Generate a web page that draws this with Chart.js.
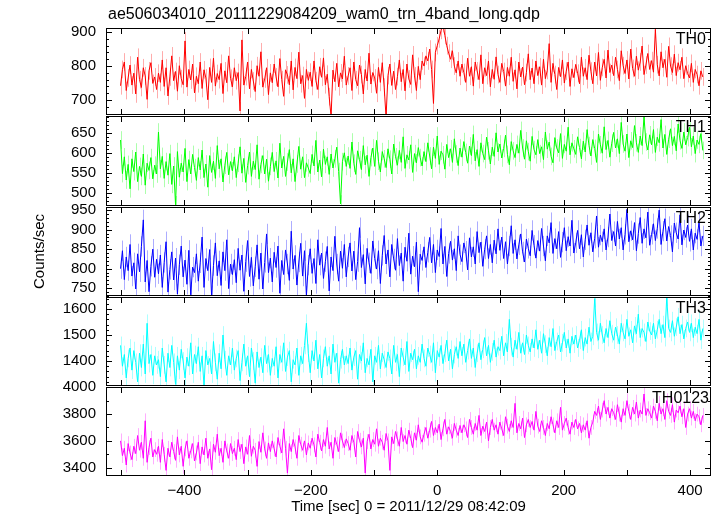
<!DOCTYPE html>
<html>
<head>
<meta charset="utf-8">
<script src="https://cdn.jsdelivr.net/npm/chart.js@4.4.1/dist/chart.umd.min.js"></script>
<style>
  body { margin: 0; background: #fff; }
  #wrap { position: relative; width: 717px; height: 516px; }
  #wrap canvas { position: absolute; left: 0; top: 0; }
</style>
</head>
<body>
<div id="wrap">
  <canvas id="p0" width="717" height="516"></canvas>
  <canvas id="p1" width="717" height="516"></canvas>
  <canvas id="p2" width="717" height="516"></canvas>
  <canvas id="p3" width="717" height="516"></canvas>
  <canvas id="p4" width="717" height="516"></canvas>
</div>
<script>
const plotTitle = 'ae506034010_20111229084209_wam0_trn_4band_long.qdp';
const xLabel = 'Time [sec] 0 = 2011/12/29 08:42:09';
const yLabel = 'Counts/sec';

// time bins (sec): first bin and bin width
const binStart = -501;
const binStep = 3;

const th0 = [
  742,790,812,728,765,803,744,779,718,826,760,737,795,771,702,786,810,749,768,731,
  779,752,818,740,795,712,768,830,757,784,726,801,763,745,874,738,790,759,806,721,
  770,748,812,734,789,765,701,796,752,823,741,778,760,808,719,786,751,830,764,739,
  795,757,781,668,877,744,769,812,733,790,756,725,801,770,842,738,762,795,716,780,
  751,806,768,739,822,760,711,789,774,745,815,730,796,763,841,748,772,705,790,758,
  782,740,815,757,731,798,767,824,745,776,710,652,788,754,808,739,780,762,829,744,
  771,795,728,812,760,742,803,775,718,790,756,838,747,781,765,720,796,752,810,738,
  650,772,806,743,785,731,769,818,754,790,727,806,762,746,833,771,728,799,760,815,
  800,830,815,850,790,690,840,860,880,905,925,890,860,838,820,845,800,780,815,770,
  806,781,752,823,770,798,741,812,786,760,833,748,795,772,815,739,790,761,827,775,
  752,808,784,741,796,770,826,755,789,733,812,768,797,745,781,836,760,794,748,815,
  772,798,744,820,763,787,866,752,808,775,731,796,769,818,750,785,812,740,792,766,
  805,779,748,826,770,795,760,832,785,748,812,771,840,758,796,820,765,847,781,803,
  772,826,790,757,845,801,778,818,762,850,793,770,829,788,812,859,775,803,837,790,
  816,782,908,804,771,842,795,820,767,858,800,781,835,772,810,789,826,763,801,778,
  765,808,752,790,775,742,786,768
];
const th1 = [
  632,548,590,532,571,510,585,553,602,528,566,541,597,519,574,556,588,535,569,547,
  652,560,591,536,578,544,598,521,567,470,603,539,574,552,611,528,583,547,596,563,
  531,588,557,607,538,572,514,593,551,579,536,618,560,585,527,569,601,545,578,555,
  590,538,574,615,549,586,526,568,602,541,579,558,620,534,571,593,547,584,529,566,
  601,553,580,537,624,562,591,541,577,608,550,585,528,572,616,559,590,538,575,562,
  548,596,567,631,552,582,540,609,571,590,546,597,562,585,614,553,472,578,600,566,
  592,561,627,574,546,605,583,558,618,570,594,541,588,612,566,631,579,552,603,585,
  563,610,584,547,622,590,569,606,576,640,561,595,582,620,551,598,575,613,588,567,
  603,578,625,592,560,614,586,642,571,604,595,559,621,588,610,576,635,597,568,612,
  589,628,601,574,617,593,646,580,608,566,625,598,583,639,605,572,614,591,650,602,
  622,587,611,644,596,570,628,605,588,621,599,656,612,584,630,603,579,641,608,595,
  633,598,615,583,652,609,627,591,575,638,612,600,648,586,621,604,664,595,625,610,
  596,640,613,585,629,602,658,618,592,633,611,576,647,620,599,665,608,631,589,624,
  651,612,635,598,676,622,604,647,588,630,613,668,625,601,642,618,690,627,607,645,
  620,658,601,639,625,683,612,646,596,634,660,618,641,605,672,630,611,652,620,638,
  664,615,642,598,632,621,648,606
];
const th2 = [
  800,846,772,830,795,862,781,815,748,838,792,857,925,766,821,741,806,850,778,824,
  787,835,752,816,869,740,798,843,771,827,735,810,858,779,822,760,847,733,804,790,
  838,768,815,881,752,826,795,849,731,808,866,782,820,757,843,795,874,749,812,785,
  823,764,852,796,835,742,818,872,780,829,756,805,861,773,840,748,816,889,790,827,
  766,842,803,858,737,821,785,848,812,770,896,799,834,758,817,865,781,846,730,809,
  851,788,826,762,874,809,840,775,818,857,743,830,795,883,812,768,845,801,862,779,
  830,866,794,845,772,818,905,803,836,761,852,815,788,871,826,799,846,762,834,885,
  812,848,779,862,825,796,877,808,840,768,855,819,891,786,832,805,868,741,837,821,
  856,803,842,880,815,862,790,848,831,903,812,857,780,839,870,822,851,795,884,836,
  818,866,845,797,879,830,856,812,895,841,868,806,850,884,826,862,815,873,838,902,
  847,881,826,869,812,858,910,839,874,825,861,889,843,817,876,852,833,898,860,827,
  872,845,903,858,820,884,866,918,839,877,851,895,829,868,905,846,882,858,924,840,
  866,898,851,887,830,874,912,860,892,843,878,935,855,886,869,902,848,881,940,872,
  895,858,921,876,905,848,888,952,869,897,874,918,846,890,931,865,902,879,945,860,
  888,915,872,903,950,862,896,928,871,908,885,843,917,892,876,938,861,899,880,912,
  870,902,848,891,875,920,858,884
];
const th3 = [
  1460,1380,1425,1335,1410,1450,1365,1440,1395,1320,1430,1375,1465,1350,1545,1390,1425,1345,1420,1385,
  1405,1340,1450,1385,1320,1430,1375,1460,1395,1310,1420,1365,1445,1400,1335,1415,1380,1470,1350,1425,
  1390,1455,1360,1420,1305,1440,1385,1410,1350,1475,1395,1330,1430,1370,1500,1405,1345,1420,1385,1450,
  1365,1410,1440,1325,1395,1465,1380,1420,1340,1450,1400,1315,1435,1375,1415,1355,1460,1390,1425,1345,
  1410,1380,1455,1335,1425,1395,1470,1360,1415,1440,1320,1405,1385,1450,1345,1420,1390,1460,1545,1430,
  1355,1440,1400,1480,1370,1425,1335,1410,1455,1380,1420,1350,1465,1395,1430,1315,1405,1445,1385,1420,
  1390,1450,1365,1415,1440,1330,1425,1400,1470,1355,1410,1385,1445,1320,1420,1395,1460,1370,1430,1405,
  1375,1435,1410,1350,1460,1395,1425,1340,1450,1415,1385,1475,1360,1430,1405,1445,1370,1420,1395,1465,
  1410,1380,1450,1425,1395,1470,1355,1440,1415,1460,1390,1430,1480,1400,1445,1370,1425,1455,1410,1475,
  1420,1465,1395,1440,1485,1410,1450,1375,1430,1470,1405,1445,1490,1420,1460,1395,1435,1480,1415,1455,
  1440,1495,1420,1470,1435,1560,1455,1415,1480,1445,1510,1430,1470,1425,1500,1460,1435,1485,1450,1520,
  1445,1480,1430,1505,1465,1420,1490,1455,1525,1440,1475,1500,1435,1470,1510,1450,1485,1430,1495,1465,
  1500,1450,1480,1520,1440,1490,1465,1530,1475,1495,1640,1510,1480,1545,1500,1470,1525,1490,1555,1505,
  1480,1530,1500,1465,1545,1510,1485,1560,1495,1520,1470,1535,1505,1580,1490,1525,1510,1475,1550,1515,
  1500,1545,1485,1520,1560,1505,1540,1490,1645,1525,1510,1555,1495,1530,1570,1505,1540,1485,1525,1550,
  1510,1545,1490,1530,1505,1560,1480,1525
];
const th0123 = [
  3600,3490,3545,3420,3580,3510,3460,3560,3505,3640,3530,3590,3470,3750,3440,3550,3620,3480,3535,3500,
  3560,3440,3610,3500,3380,3545,3480,3590,3520,3455,3630,3495,3560,3410,3540,3600,3470,3525,3580,3450,
  3510,3590,3430,3555,3495,3620,3470,3540,3385,3575,3515,3650,3490,3545,3440,3600,3525,3470,3580,3505,
  3545,3460,3610,3520,3575,3430,3555,3500,3640,3485,3560,3530,3410,3595,3515,3660,3540,3470,3585,3520,
  3600,3540,3480,3625,3560,3510,3690,3545,3360,3580,3520,3610,3555,3470,3640,3575,3530,3600,3495,3585,
  3545,3620,3570,3480,3650,3590,3525,3610,3560,3700,3540,3590,3470,3625,3575,3520,3660,3600,3550,3615,
  3580,3530,3640,3590,3480,3670,3605,3555,3620,3360,3595,3650,3540,3610,3575,3690,3560,3620,3590,3530,
  3655,3600,3380,3630,3580,3670,3615,3560,3700,3595,3640,3575,3680,3620,3550,3660,3605,3720,3630,3590,
  3650,3700,3620,3680,3745,3640,3700,3660,3725,3610,3690,3760,3650,3705,3670,3620,3730,3680,3640,3715,
  3660,3720,3690,3625,3760,3700,3650,3730,3680,3790,3640,3710,3670,3740,3600,3700,3760,3680,3720,3650,
  3740,3690,3640,3780,3710,3670,3750,3700,3880,3660,3730,3690,3770,3625,3720,3760,3700,3745,3680,3820,
  3710,3670,3750,3700,3640,3730,3690,3780,3720,3660,3750,3700,3850,3680,3730,3770,3700,3650,3740,3700,
  3760,3690,3730,3660,3720,3680,3750,3620,3700,3740,3820,3790,3860,3760,3830,3900,3800,3850,3770,3840,
  3810,3760,3870,3800,3740,3840,3790,3900,3820,3760,3850,3800,3890,3770,3830,3800,3950,3790,3840,3810,
  3770,3860,3820,3750,3880,3800,3840,3760,3900,3820,3790,3870,3740,3830,3810,3860,3780,3840,3700,3800,
  3840,3770,3820,3750,3800,3780,3720,3790
];

// typical 1-sigma error bar half-length per band
const errTH0 = 26;
const errTH1 = 22;
const errTH2 = 26;
const errTH3 = 34;
const errTH0123 = 55;

const xTicks = [-400, -200, 0, 200, 400];
const yTicks0 = [700, 800, 900];
const yTicks1 = [500, 550, 600, 650];
const yTicks2 = [750, 800, 850, 900, 950];
const yTicks3 = [1400, 1500, 1600];
const yTicks4 = [3400, 3600, 3800, 4000];

const panels = [
  { name: 'TH0',    values: th0,    err: errTH0,    ticks: yTicks0, color: '#ff0000', light: 'rgba(255,90,90,0.5)',  top: 28,  bottom: 115, min: 656,  max: 912,  minor: 20 },
  { name: 'TH1',    values: th1,    err: errTH1,    ticks: yTicks1, color: '#00ff00', light: 'rgba(90,255,90,0.5)',  top: 116, bottom: 206, min: 467,  max: 692,  minor: 10 },
  { name: 'TH2',    values: th2,    err: errTH2,    ticks: yTicks2, color: '#0000ff', light: 'rgba(90,90,255,0.5)',  top: 207, bottom: 296, min: 730,  max: 958,  minor: 10 },
  { name: 'TH3',    values: th3,    err: errTH3,    ticks: yTicks3, color: '#00ffff', light: 'rgba(90,255,255,0.5)', top: 297, bottom: 386, min: 1304, max: 1646, minor: 20 },
  { name: 'TH0123', values: th0123, err: errTH0123, ticks: yTicks4, color: '#ff00ff', light: 'rgba(255,90,255,0.5)', top: 387, bottom: 476, min: 3338, max: 4002, minor: 100 }
];

const X_MIN = -524, X_MAX = 433;
const FONT = '"Liberation Sans", Arial, Helvetica, sans-serif';
Chart.defaults.font.family = FONT;
Chart.defaults.font.size = 15;
Chart.defaults.color = '#000';

function framePlugin(p, idx) {
  return {
    id: 'frame' + idx,
    beforeDatasetsDraw(chart) {
      // vertical error bars behind the light curve
      const { ctx, chartArea: a, scales: { x, y } } = chart;
      ctx.save();
      ctx.beginPath();
      ctx.rect(a.left, a.top, a.right - a.left, a.bottom - a.top);
      ctx.clip();
      ctx.strokeStyle = p.light;
      ctx.lineWidth = 1;
      ctx.beginPath();
      p.values.forEach((v, i) => {
        const px = Math.round(x.getPixelForValue(binStart + i * binStep)) + 0.5;
        ctx.moveTo(px, y.getPixelForValue(v - p.err));
        ctx.lineTo(px, y.getPixelForValue(v + p.err));
      });
      ctx.stroke();
      ctx.restore();
    },
    afterDraw(chart) {
      const { ctx, chartArea: a, scales: { x, y } } = chart;
      ctx.save();
      ctx.strokeStyle = '#000';
      ctx.lineWidth = 1;
      ctx.strokeRect(a.left + 0.5, a.top + 0.5, a.right - a.left - 1, a.bottom - a.top - 1);
      ctx.beginPath();
      const yTick = (v, len) => {
        const py = Math.round(y.getPixelForValue(v)) + 0.5;
        ctx.moveTo(a.left, py); ctx.lineTo(a.left + len, py);
        ctx.moveTo(a.right, py); ctx.lineTo(a.right - len, py);
      };
      for (let v = Math.ceil(p.min / p.minor) * p.minor; v <= p.max; v += p.minor) {
        yTick(v, p.ticks.includes(v) ? 6 : 3);
      }
      for (let v = -500; v <= 400; v += 100) {
        const px = Math.round(x.getPixelForValue(v)) + 0.5;
        ctx.moveTo(px, a.top); ctx.lineTo(px, a.top + 6);
        ctx.moveTo(px, a.bottom); ctx.lineTo(px, a.bottom - 6);
      }
      ctx.stroke();

      ctx.fillStyle = '#000';
      ctx.font = '16px ' + FONT;
      ctx.textAlign = 'right';
      ctx.textBaseline = 'top';
      ctx.fillText(p.name, a.right - (last(idx) ? 2 : 5), a.top + 4);

      if (idx === 0) {
        ctx.textAlign = 'left';
        ctx.textBaseline = 'middle';
        ctx.fillText(plotTitle, 108, 15);
      }
      ctx.restore();
    }
  };
}

function last(idx) { return idx === panels.length - 1; }

panels.forEach((p, idx) => {
  const isLast = last(idx);
  const points = p.values.map((v, i) => ({ x: binStart + i * binStep, y: v }));
  new Chart(document.getElementById('p' + idx), {
    type: 'line',
    data: {
      datasets: [{
        data: points,
        borderColor: p.color,
        borderWidth: 1,
        pointRadius: 0,
        tension: 0,
        fill: false
      }]
    },
    options: {
      responsive: false,
      animation: false,
      devicePixelRatio: 1,
      layout: {
        padding: { left: 0, right: 6, top: p.top, bottom: isLast ? 0 : 516 - p.bottom }
      },
      plugins: { legend: { display: false }, tooltip: { enabled: false } },
      scales: {
        x: {
          type: 'linear',
          min: X_MIN,
          max: X_MAX,
          display: isLast,
          grid: { display: false, drawTicks: false },
          border: { display: false },
          ticks: {
            padding: 6,
            callback: v => String(v).replace('-', '\u2212')
          },
          afterBuildTicks: s => { s.ticks = xTicks.map(v => ({ value: v })); },
          afterFit: s => { if (isLast) s.height = 40; },
          title: { display: isLast, text: xLabel, padding: { top: 0, bottom: 0 } }
        },
        y: {
          min: p.min,
          max: p.max,
          grid: { display: false, drawTicks: false },
          border: { display: false },
          ticks: { padding: 10, callback: v => String(v) },
          afterBuildTicks: s => { s.ticks = p.ticks.map(v => ({ value: v })); },
          afterFit: s => { s.width = 106; },
          title: { display: idx === 2, text: yLabel, padding: { top: 31, bottom: 0 } }
        }
      }
    },
    plugins: [framePlugin(p, idx)]
  });
});
</script>
</body>
</html>
